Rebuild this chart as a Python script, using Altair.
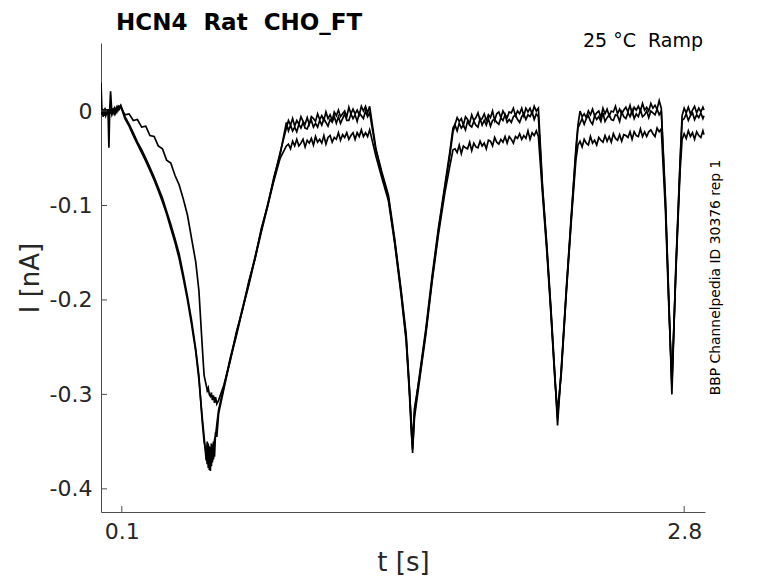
import altair as alt
import pandas as pd

# ---------------- data ----------------
# sample times [s], per protocol segment (shared by the three sweeps)
T_HOLD = [0.000, 0.004, 0.010, 0.016, 0.022, 0.028, 0.034, 0.038, 0.042, 0.046, 0.052, 0.058, 0.064, 0.070, 0.076, 0.082, 0.088, 0.095]
T_DOWN1 = [0.115, 0.135, 0.155, 0.175, 0.195, 0.215, 0.235, 0.255, 0.275, 0.295, 0.315, 0.335, 0.355, 0.375, 0.395, 0.415, 0.435, 0.455,
           0.470, 0.485, 0.495, 0.505, 0.510, 0.515, 0.520, 0.525, 0.530, 0.535, 0.540, 0.545, 0.550, 0.556, 0.565]
T_UP1 = [0.590, 0.620, 0.650, 0.680, 0.710, 0.740, 0.770, 0.800, 0.830, 0.860, 0.890]
T_PLAT1 = [0.90, 0.91, 0.92, 0.93, 0.94, 0.95, 0.96, 0.97, 0.98, 0.99, 1.00, 1.01, 1.02, 1.03, 1.04, 1.05, 1.06, 1.07, 1.08, 1.09,
           1.10, 1.11, 1.12, 1.13, 1.14, 1.15, 1.16, 1.17, 1.18, 1.19, 1.20, 1.21, 1.22, 1.23, 1.24, 1.25, 1.26, 1.27, 1.28, 1.29]
T_DOWN2 = [1.320, 1.350, 1.380, 1.410, 1.440, 1.465, 1.480, 1.490, 1.496]
T_UP2 = [1.505, 1.530, 1.560, 1.590, 1.620, 1.650, 1.675, 1.690]
T_PLAT2 = [1.70, 1.71, 1.72, 1.73, 1.74, 1.75, 1.76, 1.77, 1.78, 1.79, 1.80, 1.81, 1.82, 1.83, 1.84, 1.85, 1.86, 1.87, 1.88, 1.89,
           1.90, 1.91, 1.92, 1.93, 1.94, 1.95, 1.96, 1.97, 1.98, 1.99, 2.00, 2.01, 2.02, 2.03, 2.04, 2.05, 2.06, 2.07, 2.08, 2.09, 2.10]
T_DOWN3 = [2.120, 2.140, 2.160, 2.180, 2.192]
T_UP3 = [2.210, 2.235, 2.260, 2.280, 2.290]
T_PLAT3 = [2.30, 2.31, 2.32, 2.33, 2.34, 2.35, 2.36, 2.37, 2.38, 2.39, 2.40, 2.41, 2.42, 2.43, 2.44, 2.45, 2.46, 2.47, 2.48, 2.49,
           2.50, 2.51, 2.52, 2.53, 2.54, 2.55, 2.56, 2.57, 2.58, 2.59, 2.60, 2.61, 2.62, 2.63, 2.64, 2.65, 2.66, 2.67, 2.68, 2.69]
T_DOWN4 = [2.710, 2.725, 2.741]
T_UP4 = [2.760, 2.780, 2.790]
T_PLAT4 = [2.800, 2.810, 2.820, 2.830, 2.840, 2.850, 2.860, 2.870, 2.880, 2.890, 2.895]

# sweep 1 (upper plateaus, fast first ramp) [nA]
S1_HOLD = [0.030, 0.002, -0.003, 0.001, -0.004, 0.000, -0.002, -0.039, 0.003, 0.021, -0.002, 0.001, -0.003, 0.002, -0.001, 0.004, 0.003, 0.006]
S1_DOWN1 = [-0.006, -0.014, -0.023, -0.033, -0.041, -0.050, -0.060, -0.070, -0.081, -0.092, -0.106, -0.120, -0.135, -0.151, -0.173,
            -0.196, -0.222, -0.252, -0.280, -0.326, -0.350, -0.362, -0.374, -0.352, -0.380, -0.356, -0.376, -0.354, -0.369, -0.348,
            -0.344, -0.332, -0.316]
S1_UP1 = [-0.292, -0.262, -0.236, -0.208, -0.182, -0.154, -0.126, -0.099, -0.072, -0.044, -0.018]
S1_PLAT1 = [-0.010, -0.015, -0.008, -0.016, -0.010, -0.014, -0.006, -0.011, -0.014, -0.007, -0.014, -0.006, -0.008, -0.011, -0.003,
            -0.009, -0.005, -0.010, -0.001, -0.008, -0.004, -0.010, -0.001, -0.005, 0.001, -0.006, -0.003, 0.000, -0.006, 0.004,
            -0.003, 0.002, -0.003, 0.001, -0.004, 0.005, 0.000, 0.005, -0.002, 0.005]
S1_DOWN2 = [-0.040, -0.066, -0.089, -0.135, -0.188, -0.236, -0.290, -0.335, -0.362]
S1_UP2 = [-0.320, -0.278, -0.230, -0.174, -0.124, -0.080, -0.043, -0.018]
S1_PLAT2 = [-0.014, -0.007, -0.011, -0.008, -0.015, -0.006, -0.009, -0.013, -0.004, -0.010, -0.007, -0.002, -0.010, -0.008, -0.003,
            -0.010, -0.004, -0.007, 0.000, -0.010, -0.003, -0.001, -0.007, 0.000, -0.004, -0.007, -0.001, -0.002, 0.003, -0.005,
            0.000, -0.003, 0.003, -0.005, 0.003, -0.001, 0.003, -0.003, 0.005, 0.000, 0.003]
S1_DOWN3 = [-0.080, -0.140, -0.208, -0.282, -0.333]
S1_UP3 = [-0.272, -0.185, -0.104, -0.040, -0.015]
S1_PLAT3 = [0.000, -0.006, -0.003, -0.007, 0.000, -0.004, 0.002, -0.005, -0.002, 0.000, -0.007, 0.003, -0.003, 0.002, -0.005,
            0.000, -0.001, 0.005, -0.003, 0.002, -0.003, 0.001, 0.004, -0.001, 0.006, -0.003, 0.004, 0.001, 0.005, 0.000,
            0.008, 0.001, 0.004, 0.000, 0.008, 0.003, 0.006, 0.002, 0.011, 0.003]
S1_DOWN4 = [-0.092, -0.190, -0.300]
S1_UP4 = [-0.165, -0.055, -0.005]
S1_PLAT4 = [0.003, -0.002, 0.004, -0.003, 0.001, 0.005, -0.002, 0.003, -0.001, 0.004, 0.001]

# sweep 2 (upper plateaus, lagging first ramp) [nA]
S2_HOLD = [0.005, -0.004, 0.002, -0.005, 0.001, -0.003, 0.002, -0.004, 0.000, -0.003, 0.003, -0.002, 0.002, -0.001, 0.004, 0.001, 0.005, 0.004]
S2_DOWN1 = [-0.004, -0.003, -0.010, -0.009, -0.017, -0.016, -0.026, -0.027, -0.037, -0.040, -0.052, -0.055, -0.068, -0.078, -0.093,
            -0.110, -0.135, -0.160, -0.190, -0.245, -0.280, -0.290, -0.296, -0.293, -0.300, -0.302, -0.298, -0.306, -0.301, -0.309,
            -0.303, -0.310, -0.306]
S2_UP1 = [-0.290, -0.265, -0.234, -0.210, -0.180, -0.156, -0.124, -0.101, -0.070, -0.046, -0.012]
S2_PLAT1 = [-0.021, -0.015, -0.021, -0.017, -0.022, -0.014, -0.018, -0.012, -0.018, -0.019, -0.013, -0.010, -0.017, -0.013, -0.017,
            -0.010, -0.015, -0.008, -0.012, -0.016, -0.009, -0.012, -0.006, -0.013, -0.006, -0.013, -0.008, -0.003, -0.010, -0.010,
            -0.003, -0.008, -0.004, -0.011, -0.002, -0.005, -0.008, 0.000, -0.006, -0.002]
S2_DOWN2 = [-0.042, -0.068, -0.092, -0.138, -0.190, -0.240, -0.292, -0.330, -0.352]
S2_UP2 = [-0.315, -0.281, -0.233, -0.178, -0.127, -0.083, -0.047, -0.022]
S2_PLAT2 = [-0.015, -0.021, -0.013, -0.018, -0.015, -0.020, -0.011, -0.015, -0.017, -0.011, -0.015, -0.017, -0.008, -0.015, -0.010,
            -0.015, -0.008, -0.016, -0.010, -0.009, -0.012, -0.014, -0.007, -0.010, -0.004, -0.012, -0.009, -0.012, -0.006, -0.004,
            -0.009, -0.012, -0.006, -0.003, -0.009, -0.004, -0.006, -0.001, -0.009, -0.003, -0.006]
S2_DOWN3 = [-0.083, -0.143, -0.211, -0.285, -0.325]
S2_UP3 = [-0.275, -0.188, -0.107, -0.044, -0.018]
S2_PLAT3 = [-0.013, -0.008, -0.014, -0.008, -0.005, -0.011, -0.014, -0.005, -0.009, -0.006, -0.011, -0.002, -0.011, -0.007, -0.004,
            -0.009, -0.010, -0.004, -0.005, -0.011, -0.001, -0.006, -0.008, -0.002, -0.006, 0.001, -0.008, -0.003, -0.006, 0.001,
            -0.006, -0.004, 0.000, -0.007, 0.000, -0.002, -0.004, 0.002, -0.004, 0.000]
S2_DOWN4 = [-0.096, -0.194, -0.292]
S2_UP4 = [-0.168, -0.058, -0.010]
S2_PLAT4 = [-0.008, -0.003, -0.010, -0.005, -0.002, -0.009, -0.004, -0.007, -0.002, -0.008, -0.005]

# sweep 3 (lower plateaus) [nA]
S3_HOLD = [-0.002, 0.003, -0.006, -0.001, -0.005, 0.002, -0.004, 0.001, -0.003, 0.002, -0.004, 0.000, 0.003, -0.002, 0.002, 0.005, 0.002, 0.005]
S3_DOWN1 = [-0.008, -0.016, -0.026, -0.035, -0.044, -0.053, -0.063, -0.073, -0.084, -0.096, -0.109, -0.124, -0.139, -0.156, -0.177,
            -0.200, -0.226, -0.255, -0.284, -0.322, -0.345, -0.370, -0.350, -0.378, -0.355, -0.381, -0.352, -0.372, -0.350, -0.366,
            -0.340, -0.345, -0.320]
S3_UP1 = [-0.294, -0.264, -0.238, -0.210, -0.184, -0.156, -0.128, -0.101, -0.074, -0.050, -0.037]
S3_PLAT1 = [-0.035, -0.040, -0.032, -0.037, -0.030, -0.037, -0.034, -0.030, -0.038, -0.031, -0.034, -0.029, -0.036, -0.027, -0.033,
            -0.030, -0.034, -0.026, -0.035, -0.028, -0.026, -0.033, -0.028, -0.030, -0.023, -0.031, -0.025, -0.028, -0.023, -0.030,
            -0.026, -0.023, -0.030, -0.023, -0.027, -0.020, -0.027, -0.023, -0.027, -0.020]
S3_DOWN2 = [-0.048, -0.072, -0.095, -0.140, -0.193, -0.243, -0.296, -0.340, -0.358]
S3_UP2 = [-0.325, -0.284, -0.236, -0.180, -0.131, -0.088, -0.058, -0.041]
S3_PLAT2 = [-0.040, -0.044, -0.036, -0.045, -0.037, -0.039, -0.040, -0.033, -0.042, -0.034, -0.038, -0.039, -0.032, -0.037, -0.034,
            -0.040, -0.031, -0.032, -0.037, -0.028, -0.033, -0.035, -0.030, -0.033, -0.027, -0.034, -0.027, -0.030, -0.034, -0.027,
            -0.029, -0.024, -0.030, -0.026, -0.029, -0.021, -0.030, -0.023, -0.026, -0.021, -0.027]
S3_DOWN3 = [-0.088, -0.147, -0.214, -0.287, -0.318]
S3_UP3 = [-0.278, -0.190, -0.110, -0.052, -0.036]
S3_PLAT3 = [-0.032, -0.038, -0.030, -0.034, -0.036, -0.027, -0.034, -0.031, -0.036, -0.028, -0.031, -0.033, -0.026, -0.032, -0.027,
            -0.033, -0.024, -0.029, -0.031, -0.025, -0.032, -0.025, -0.026, -0.028, -0.022, -0.030, -0.022, -0.026, -0.027, -0.019,
            -0.027, -0.022, -0.027, -0.022, -0.020, -0.024, -0.027, -0.018, -0.022, -0.019]
S3_DOWN4 = [-0.105, -0.200, -0.285]
S3_UP4 = [-0.172, -0.065, -0.030]
S3_PLAT4 = [-0.024, -0.029, -0.021, -0.027, -0.023, -0.030, -0.022, -0.026, -0.028, -0.021, -0.025]

X_TICKS = [0.1, 2.8]
X_TICK_LABELS = ["0.1", "2.8"]
Y_TICKS = [0.0, -0.1, -0.2, -0.3, -0.4]
Y_TICK_LABELS = ["0", "-0.1", "-0.2", "-0.3", "-0.4"]

TITLE = "HCN4\u00a0\u00a0Rat\u00a0\u00a0CHO_FT"
CONDITION = "25 °C\u00a0\u00a0Ramp"
SOURCE = "BBP Channelpedia ID 30376 rep 1"

# ---------------- build table ----------------
T = T_HOLD + T_DOWN1 + T_UP1 + T_PLAT1 + T_DOWN2 + T_UP2 + T_PLAT2 + T_DOWN3 + T_UP3 + T_PLAT3 + T_DOWN4 + T_UP4 + T_PLAT4
sweeps = {
    "s1": S1_HOLD + S1_DOWN1 + S1_UP1 + S1_PLAT1 + S1_DOWN2 + S1_UP2 + S1_PLAT2 + S1_DOWN3 + S1_UP3 + S1_PLAT3 + S1_DOWN4 + S1_UP4 + S1_PLAT4,
    "s2": S2_HOLD + S2_DOWN1 + S2_UP1 + S2_PLAT1 + S2_DOWN2 + S2_UP2 + S2_PLAT2 + S2_DOWN3 + S2_UP3 + S2_PLAT3 + S2_DOWN4 + S2_UP4 + S2_PLAT4,
    "s3": S3_HOLD + S3_DOWN1 + S3_UP1 + S3_PLAT1 + S3_DOWN2 + S3_UP2 + S3_PLAT2 + S3_DOWN3 + S3_UP3 + S3_PLAT3 + S3_DOWN4 + S3_UP4 + S3_PLAT4,
}
rows = []
for name, vals in sweeps.items():
    n = min(len(vals), len(T))
    for i in range(n):
        rows.append({"sweep": name, "i": i, "t": T[i], "I": vals[i]})
df = pd.DataFrame(rows)


def label_expr(values, labels):
    parts = [f"abs(datum.value - ({v})) < 1e-6 ? '{l}'" for v, l in zip(values, labels)]
    return " : ".join(parts) + " : ''"


W, H = 604, 469
FONT = "DejaVu Sans"
TXT = "#262626"
AX = "#4d4d4d"

x_scale = alt.Scale(domain=[0.0, 2.9], nice=False, zero=False)
y_scale = alt.Scale(domain=[-0.4245, 0.072], nice=False, zero=False)

lines = alt.Chart(df).mark_line(color="black", strokeWidth=1.7, clip=True).encode(
    x=alt.X("t:Q", scale=x_scale,
            axis=alt.Axis(values=X_TICKS, labelExpr=label_expr(X_TICKS, X_TICK_LABELS), title="t [s]",
                          titlePadding=7)),
    y=alt.Y("I:Q", scale=y_scale,
            axis=alt.Axis(values=Y_TICKS, labelExpr=label_expr(Y_TICKS, Y_TICK_LABELS), title="I [nA]",
                          titlePadding=6)),
    detail="sweep:N",
    order="i:Q",
)

xt = alt.Chart(pd.DataFrame({"t": X_TICKS})).mark_rule(color=AX, strokeWidth=1).encode(
    x=alt.X("t:Q", scale=x_scale), y=alt.value(H), y2=alt.value(H - 6))
yt = alt.Chart(pd.DataFrame({"I": Y_TICKS})).mark_rule(color=AX, strokeWidth=1).encode(
    y=alt.Y("I:Q", scale=y_scale), x=alt.value(0), x2=alt.value(6))

title = alt.Chart(pd.DataFrame({"s": [TITLE]})).mark_text(
    align="left", baseline="alphabetic", font=FONT, fontSize=23, fontWeight="bold", color="black"
).encode(text="s:N", x=alt.value(15), y=alt.value(-13))

cond = alt.Chart(pd.DataFrame({"s": [CONDITION]})).mark_text(
    align="right", baseline="alphabetic", font=FONT, fontSize=19, color="black"
).encode(text="s:N", x=alt.value(W - 2), y=alt.value(4))

src = alt.Chart(pd.DataFrame({"s": [SOURCE]})).mark_text(
    align="center", baseline="middle", font=FONT, fontSize=13.9, color="black", angle=270
).encode(text="s:N", x=alt.value(W + 11), y=alt.value(H / 2))

chart = alt.layer(lines, xt, yt, title, cond, src).properties(
    width=W, height=H,
    autosize=alt.AutoSizeParams(type="none"),
    padding={"left": 93, "top": 35, "right": 60, "bottom": 63},
).configure_view(stroke=None).configure_axis(
    grid=False, ticks=False, tickSize=0,
    domainColor=AX, domainWidth=1,
    labelFont=FONT, labelFontSize=22, labelColor=TXT, labelPadding=9,
    titleFont=FONT, titleFontSize=26, titleFontWeight="normal", titleColor=TXT,
)

chart.save("out.html", embed_options={"renderer": "svg", "actions": False})
